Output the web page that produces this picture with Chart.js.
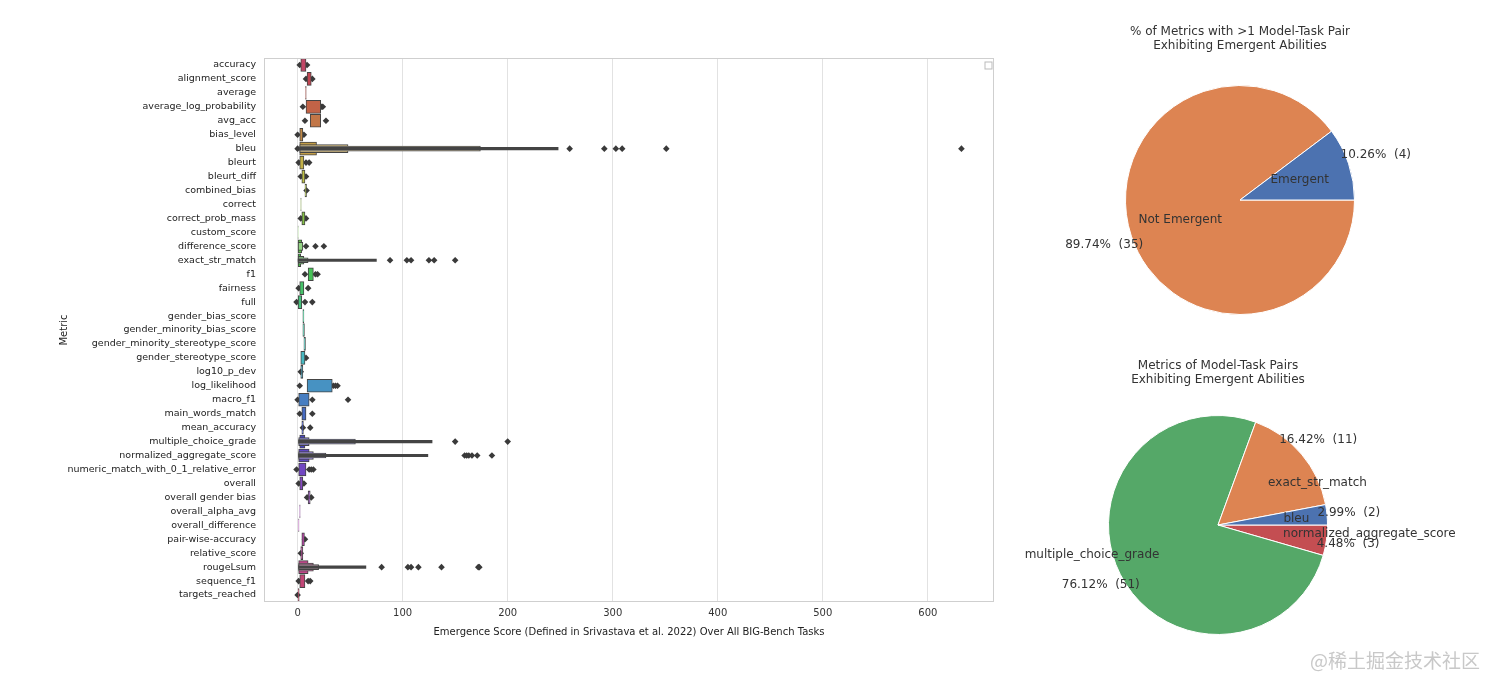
<!DOCTYPE html>
<html><head><meta charset="utf-8">
<script src="https://cdn.jsdelivr.net/npm/chart.js@4"></script>
<style>
body{margin:0;width:1502px;height:676px;background:#fff;position:relative;overflow:hidden;font-family:"DejaVu Sans",sans-serif}
canvas{position:absolute}
#wm{position:absolute;left:1310px;top:646px;font:19px "Noto Sans CJK SC";color:#c8c8c8}
</style></head><body>
<canvas id="box" style="left:0;top:0;width:1010px;height:676px"></canvas>
<canvas id="p1" style="left:1025px;top:0;width:430px;height:340px"></canvas>
<canvas id="p2" style="left:1025px;top:340px;width:430px;height:336px"></canvas>
<div id="wm">@稀土掘金技术社区</div>
<script>
const metrics=["accuracy","alignment_score","average","average_log_probability","avg_acc","bias_level","bleu","bleurt","bleurt_diff","combined_bias","correct","correct_prob_mass","custom_score","difference_score","exact_str_match","f1","fairness","full","gender_bias_score","gender_minority_bias_score","gender_minority_stereotype_score","gender_stereotype_score","log10_p_dev","log_likelihood","macro_f1","main_words_match","mean_accuracy","multiple_choice_grade","normalized_aggregate_score","numeric_match_with_0_1_relative_error","overall","overall gender bias","overall_alpha_avg","overall_difference","pair-wise-accuracy","relative_score","rougeLsum","sequence_f1","targets_reached"];
const level1=[[3,8],[9,13],[7.6,8.2],[8,22],[12,22],[2,5],[2,18],[2,6],[4,7],[7,8.5],[3,3.4],[4,7],[0,0.5],[0,4],[0,3],[10,15],[2,6],[0,4],[5,6],[5,6.5],[6,7.5],[3,7],[3,5],[9,33],[1,11],[4,8],[4,5.5],[2,7],[1,11],[1,8],[2,5],[10,12],[2,2.4],[1,1.3],[4,6.5],[3,5],[1,10],[2,7],[0,1.5]];
const level2=[null,null,null,null,null,null,[2,48],null,null,null,null,null,null,[0,5],[0,6],null,null,null,null,null,null,null,null,null,null,null,null,[1,11],[1,15],null,null,null,null,null,null,null,[1,15],null,null];
const level3=[null,null,null,null,null,null,[2,174],null,null,null,null,null,null,null,[0,10],null,null,null,null,null,null,null,null,null,null,null,null,[1,55],[1,27],null,null,null,null,null,null,null,[1,20],null,null];
const tail=[null,null,null,null,null,null,[2,248],null,null,null,null,null,null,null,[0,75],null,null,null,null,null,null,null,null,null,null,null,null,[1,128],[1,124],null,null,null,null,null,null,null,[1,65],null,null];
const outliers=[[2,9],[8,14],[],[5,23,24],[7,27],[0,6],[0,259,292,303,309,351,632],[1,8,11],[3,8],[8.5],[],[3,8],[],[8,17,25],[88,104,108,125,130,150],[7,17,19],[1,10],[-1,7,14],[],[],[],[8],[3],[2,34,36,38],[0,14,48],[2,14],[5,12],[150,200],[159,161,163,166,171,185],[-1,11,13,15],[1,6],[9,13],[],[],[7],[3],[80,105,108,115,137,172,173],[1,10,12],[0]];
const xTicks=[0,100,200,300,400,500,600];

const pie1Labels=["Not Emergent","Emergent"];
const pie1Values=[35,4];
const pie2Labels=["normalized_aggregate_score","multiple_choice_grade","exact_str_match","bleu"];
const pie2Values=[3,51,11,2];

const hue=i=>((-15+i*9.5)%360+360)%360;
const c1=metrics.map((m,i)=>`hsl(${hue(i)},50%,52%)`);
const c2=metrics.map((m,i)=>`hsl(${hue(i)},50%,68%)`);
const c3=metrics.map((m,i)=>`hsl(${hue(i)},50%,82%)`);
const pts=[];outliers.forEach((a,i)=>a.forEach(v=>pts.push({x:v,y:metrics[i]})));

const frame={id:'frame',afterDraw(ch){const a=ch.chartArea,c=ch.ctx;c.save();c.strokeStyle='#cfcfcf';c.lineWidth=1;c.strokeRect(a.left+.5,a.top+.5,a.width-1,a.height-1);c.strokeStyle='#bbb';c.strokeRect(985,62,7,7);c.restore();}};
const bar=(data,th,bg,bw)=>({type:'bar',data,barThickness:th,grouped:false,backgroundColor:bg,borderColor:'#444',borderWidth:bw,borderSkipped:false});
new Chart(document.getElementById('box'),{
 data:{labels:metrics,datasets:[
  bar(tail,2.5,'#444',0),
  bar(level3,5,c3,1),
  bar(level2,8,c2,1),
  bar(level1,13,c1,1),
  {type:'line',data:pts,showLine:false,pointStyle:'rectRot',pointRadius:3.3,backgroundColor:'#3a3a3a',borderColor:'#3a3a3a',borderWidth:0,indexAxis:'x'}
 ]},
 plugins:[frame],
 options:{indexAxis:'y',responsive:false,animation:false,devicePixelRatio:1,
  layout:{padding:{left:58,top:58,right:16,bottom:38}},
  plugins:{legend:{display:false},tooltip:{enabled:false}},
  scales:{
   x:{type:'linear',min:-32,max:663,afterBuildTicks:s=>{s.ticks=xTicks.map(v=>({value:v}))},
      grid:{color:'#e2e2e2',drawTicks:false},border:{display:false},
      ticks:{padding:5,color:'#333',font:{size:10,family:'DejaVu Sans'}},
      title:{display:true,text:'Emergence Score (Defined in Srivastava et al. 2022) Over All BIG-Bench Tasks',color:'#222',font:{size:10,family:'DejaVu Sans'},padding:{top:0,bottom:0}},
      afterFit:s=>{s.height=36}},
   y:{type:'category',offset:true,grid:{display:false},border:{display:false},
      ticks:{padding:0,color:'#222',font:{size:9.5,family:'DejaVu Sans'},autoSkip:false},
      title:{display:true,text:'Metric',color:'#222',font:{size:10,family:'DejaVu Sans'},padding:0},
      afterFit:s=>{s.width=206}}
  }}});

function pieLabels(title,centerNames,nd,pd){return {id:'pl',afterDraw(ch){
 const c=ch.ctx,arcs=ch.getDatasetMeta(0).data,vals=ch.data.datasets[0].data,tot=vals.reduce((a,b)=>a+b,0);
 c.save();c.fillStyle='#333';c.font='12px "DejaVu Sans"';c.textAlign='center';c.textBaseline='middle';
 c.fillText(title[0],arcs[0].x,title[2]);c.fillText(title[1],arcs[0].x,title[2]+14);
 arcs.forEach((a,i)=>{const m=(a.startAngle+a.endAngle)/2,r=a.outerRadius,cx=a.x,cy=a.y;
  const nx=cx+Math.cos(m)*r*nd,ny=cy+Math.sin(m)*r*nd;
  c.textAlign=centerNames?'center':(Math.cos(m)>0?'left':'right');c.fillText(ch.data.labels[i],nx,ny);
  c.textAlign='center';c.fillText((vals[i]/tot*100).toFixed(2)+'%  ('+vals[i]+')',cx+Math.cos(m)*r*pd,cy+Math.sin(m)*r*pd);});
 c.restore();}};}
const pieOpts=(pad)=>({responsive:false,animation:false,devicePixelRatio:1,rotation:90,layout:{padding:pad},plugins:{legend:{display:false},tooltip:{enabled:false}}});
new Chart(document.getElementById('p1'),{type:'pie',data:{labels:pie1Labels,datasets:[{data:pie1Values,backgroundColor:['#dd8452','#4c72b0'],borderColor:'#fff',borderWidth:1}]},
 options:pieOpts({left:100,right:100,top:85,bottom:25}),plugins:[pieLabels(['% of Metrics with >1 Model-Task Pair','Exhibiting Emergent Abilities',32],true,0.55,1.25)]});
new Chart(document.getElementById('p2'),{type:'pie',data:{labels:pie2Labels,datasets:[{data:pie2Values,backgroundColor:['#c44e52','#55a868','#dd8452','#4c72b0'],borderColor:'#fff',borderWidth:1}]},
 options:pieOpts({left:83,right:127,top:75,bottom:41}),plugins:[pieLabels(['Metrics of Model-Task Pairs','Exhibiting Emergent Abilities',26],false,0.6,1.2)]});
</script></body></html>
